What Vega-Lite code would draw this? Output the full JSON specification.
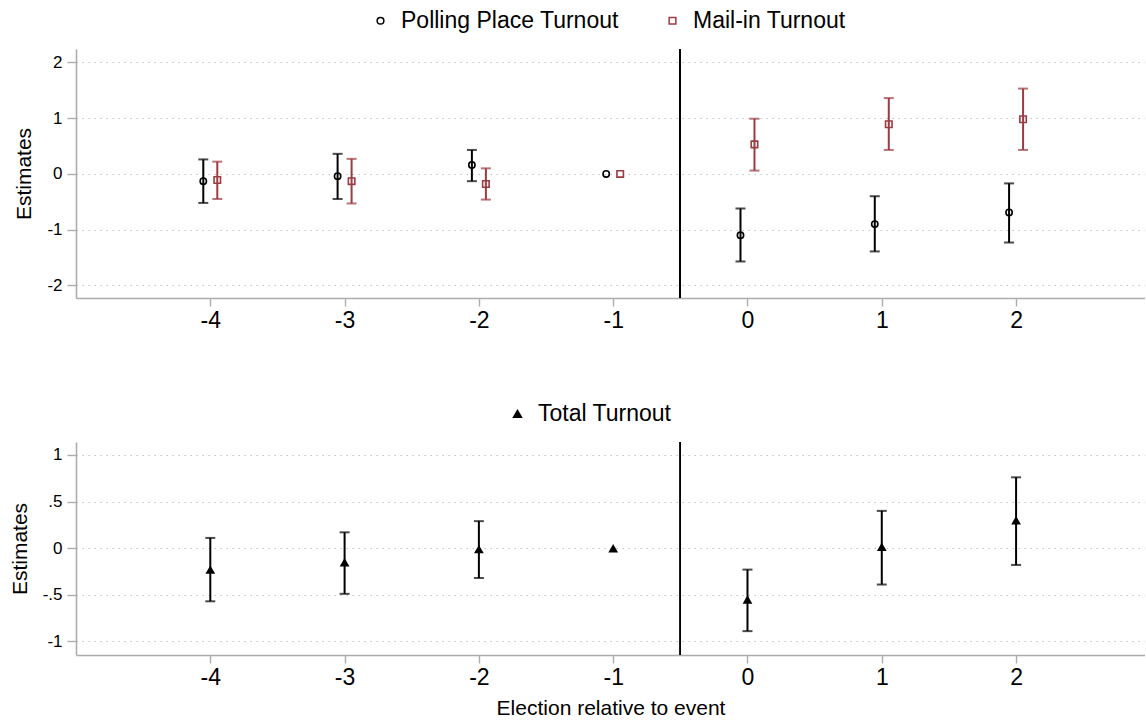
{
  "$schema": "https://vega.github.io/schema/vega-lite/v6.json",
  "padding": {"left": 9, "top": 9, "right": 0, "bottom": 4},
  "spacing": 70,
  "config": {
    "font": "Liberation Sans",
    "view": {"stroke": null},
    "axis": {
      "domainColor": "#adadad", "domainWidth": 1.6,
      "tickColor": "#adadad", "tickWidth": 1.4,
      "labelColor": "black", "titleColor": "black",
      "labelFont": "Liberation Sans", "titleFont": "Liberation Sans",
      "titleFontWeight": "normal"
    },
    "axisX": {"grid": false, "tickSize": 8, "labelFontSize": 23, "labelPadding": 3, "titleFontSize": 21, "titlePadding": 8},
    "axisY": {"grid": true, "gridColor": "#c4c4c4", "gridDash": [1.5, 4.5], "gridWidth": 1.2, "tickSize": 9, "labelFontSize": 17, "labelPadding": 5, "titleFontSize": 21, "titlePadding": 12},
    "legend": {"labelFont": "Liberation Sans", "labelFontSize": 23, "labelColor": "black", "labelLimit": 500, "padding": 0, "symbolStrokeWidth": 1.5, "labelOffset": 9, "columnPadding": 42}
  },
  "datasets": {
    "parts": [
      {"t": -4, "group": "Polling Place Turnout", "est": -0.13, "lo": -0.52, "hi": 0.26},
      {"t": -4, "group": "Mail-in Turnout", "est": -0.11, "lo": -0.45, "hi": 0.22},
      {"t": -3, "group": "Polling Place Turnout", "est": -0.04, "lo": -0.45, "hi": 0.36},
      {"t": -3, "group": "Mail-in Turnout", "est": -0.13, "lo": -0.53, "hi": 0.27},
      {"t": -2, "group": "Polling Place Turnout", "est": 0.16, "lo": -0.13, "hi": 0.43},
      {"t": -2, "group": "Mail-in Turnout", "est": -0.18, "lo": -0.46, "hi": 0.10},
      {"t": -1, "group": "Polling Place Turnout", "est": 0, "lo": null, "hi": null},
      {"t": -1, "group": "Mail-in Turnout", "est": 0, "lo": null, "hi": null},
      {"t": 0, "group": "Polling Place Turnout", "est": -1.10, "lo": -1.57, "hi": -0.62},
      {"t": 0, "group": "Mail-in Turnout", "est": 0.53, "lo": 0.06, "hi": 0.99},
      {"t": 1, "group": "Polling Place Turnout", "est": -0.90, "lo": -1.39, "hi": -0.40},
      {"t": 1, "group": "Mail-in Turnout", "est": 0.89, "lo": 0.43, "hi": 1.36},
      {"t": 2, "group": "Polling Place Turnout", "est": -0.69, "lo": -1.23, "hi": -0.17},
      {"t": 2, "group": "Mail-in Turnout", "est": 0.98, "lo": 0.43, "hi": 1.53}
    ],
    "total": [
      {"t": -4, "group": "Total Turnout", "est": -0.23, "lo": -0.57, "hi": 0.11},
      {"t": -3, "group": "Total Turnout", "est": -0.15, "lo": -0.49, "hi": 0.17},
      {"t": -2, "group": "Total Turnout", "est": -0.01, "lo": -0.32, "hi": 0.29},
      {"t": -1, "group": "Total Turnout", "est": 0, "lo": null, "hi": null},
      {"t": 0, "group": "Total Turnout", "est": -0.55, "lo": -0.89, "hi": -0.23},
      {"t": 1, "group": "Total Turnout", "est": 0.015, "lo": -0.39, "hi": 0.40},
      {"t": 2, "group": "Total Turnout", "est": 0.30, "lo": -0.18, "hi": 0.76}
    ]
  },
  "vconcat": [
    {
      "width": 1069,
      "height": 249,
      "data": {"name": "parts"},
      "layer": [
        {
          "mark": {"type": "rule", "color": "#9e9e9e", "strokeWidth": 1.5},
          "encoding": {
            "x": {"field": "t", "type": "quantitative", "title": null, "scale": {"domain": [-5, 2.96], "nice": false, "zero": false}, "axis": {"values": [-4, -3, -2, -1, 0, 1, 2], "labelExpr": "(datum.value < 0 ? '-' : '') + format(abs(datum.value), 'd')"}},
            "y": {"datum": 0, "type": "quantitative", "title": "Estimates", "scale": {"domain": [-2.225, 2.24], "nice": false, "zero": false}, "axis": {"values": [-2, -1, 0, 1, 2], "labelExpr": "(datum.value < 0 ? '-' : '') + replace(format(abs(datum.value), '~g'), '0.', '.')"}}
          }
        },
        {
          "mark": {"type": "rule", "color": "black", "strokeWidth": 1.2},
          "encoding": {"x": {"datum": -0.5, "type": "quantitative"}}
        },
        {
          "transform": [{"filter": "datum.group === 'Polling Place Turnout'"}],
          "mark": {"type": "rule", "color": "black", "strokeWidth": 2, "xOffset": -7},
          "encoding": {
            "x": {"field": "t", "type": "quantitative", "title": null},
            "y": {"field": "lo", "type": "quantitative", "title": "Estimates"},
            "y2": {"field": "hi"}
          }
        },
        {
          "transform": [{"filter": "datum.group === 'Polling Place Turnout'"}],
          "mark": {"type": "tick", "orient": "horizontal", "color": "black", "size": 10, "thickness": 2, "xOffset": -7},
          "encoding": {
            "x": {"field": "t", "type": "quantitative", "title": null},
            "y": {"field": "lo", "type": "quantitative", "title": "Estimates"}
          }
        },
        {
          "transform": [{"filter": "datum.group === 'Polling Place Turnout'"}],
          "mark": {"type": "tick", "orient": "horizontal", "color": "black", "size": 10, "thickness": 2, "xOffset": -7},
          "encoding": {
            "x": {"field": "t", "type": "quantitative", "title": null},
            "y": {"field": "hi", "type": "quantitative", "title": "Estimates"}
          }
        },
        {
          "transform": [{"filter": "datum.group === 'Mail-in Turnout'"}],
          "mark": {"type": "rule", "color": "#9b3b42", "strokeWidth": 2, "xOffset": 7},
          "encoding": {
            "x": {"field": "t", "type": "quantitative", "title": null},
            "y": {"field": "lo", "type": "quantitative", "title": "Estimates"},
            "y2": {"field": "hi"}
          }
        },
        {
          "transform": [{"filter": "datum.group === 'Mail-in Turnout'"}],
          "mark": {"type": "tick", "orient": "horizontal", "color": "#9b3b42", "size": 10, "thickness": 2, "xOffset": 7},
          "encoding": {
            "x": {"field": "t", "type": "quantitative", "title": null},
            "y": {"field": "lo", "type": "quantitative", "title": "Estimates"}
          }
        },
        {
          "transform": [{"filter": "datum.group === 'Mail-in Turnout'"}],
          "mark": {"type": "tick", "orient": "horizontal", "color": "#9b3b42", "size": 10, "thickness": 2, "xOffset": 7},
          "encoding": {
            "x": {"field": "t", "type": "quantitative", "title": null},
            "y": {"field": "hi", "type": "quantitative", "title": "Estimates"}
          }
        },
        {
          "transform": [{"filter": "datum.group === 'Polling Place Turnout'"}],
          "mark": {"type": "point", "filled": false, "strokeWidth": 1.6, "size": 40, "opacity": 1, "xOffset": -7},
          "encoding": {
            "x": {"field": "t", "type": "quantitative", "title": null},
            "y": {"field": "est", "type": "quantitative", "title": "Estimates"},
            "color": {"field": "group", "type": "nominal", "scale": {"domain": ["Polling Place Turnout", "Mail-in Turnout"], "range": ["black", "#9b3b42"]}, "legend": {"title": null, "orient": "none", "direction": "horizontal", "legendX": 293, "legendY": -40, "symbolSize": 45}},
            "shape": {"field": "group", "type": "nominal", "scale": {"domain": ["Polling Place Turnout", "Mail-in Turnout"], "range": ["circle", "square"]}, "legend": {"title": null, "orient": "none", "direction": "horizontal", "legendX": 293, "legendY": -40, "symbolSize": 45}}
          }
        },
        {
          "transform": [{"filter": "datum.group === 'Mail-in Turnout'"}],
          "mark": {"type": "point", "filled": false, "strokeWidth": 1.6, "size": 42, "opacity": 1, "xOffset": 7},
          "encoding": {
            "x": {"field": "t", "type": "quantitative", "title": null},
            "y": {"field": "est", "type": "quantitative", "title": "Estimates"},
            "color": {"field": "group", "type": "nominal", "scale": {"domain": ["Polling Place Turnout", "Mail-in Turnout"], "range": ["black", "#9b3b42"]}},
            "shape": {"field": "group", "type": "nominal", "scale": {"domain": ["Polling Place Turnout", "Mail-in Turnout"], "range": ["circle", "square"]}}
          }
        }
      ]
    },
    {
      "width": 1069,
      "height": 213,
      "data": {"name": "total"},
      "layer": [
        {
          "mark": {"type": "rule", "color": "#9e9e9e", "strokeWidth": 1.5},
          "encoding": {
            "x": {"field": "t", "type": "quantitative", "title": "Election relative to event", "scale": {"domain": [-5, 2.96], "nice": false, "zero": false}, "axis": {"values": [-4, -3, -2, -1, 0, 1, 2], "labelExpr": "(datum.value < 0 ? '-' : '') + format(abs(datum.value), 'd')"}},
            "y": {"datum": 0, "type": "quantitative", "title": "Estimates", "scale": {"domain": [-1.146, 1.139], "nice": false, "zero": false}, "axis": {"values": [-1, -0.5, 0, 0.5, 1], "labelExpr": "(datum.value < 0 ? '-' : '') + replace(format(abs(datum.value), '~g'), '0.', '.')"}}
          }
        },
        {
          "mark": {"type": "rule", "color": "black", "strokeWidth": 1.2},
          "encoding": {"x": {"datum": -0.5, "type": "quantitative"}}
        },
        {
          "mark": {"type": "rule", "color": "black", "strokeWidth": 2},
          "encoding": {
            "x": {"field": "t", "type": "quantitative", "title": "Election relative to event"},
            "y": {"field": "lo", "type": "quantitative", "title": "Estimates"},
            "y2": {"field": "hi"}
          }
        },
        {
          "mark": {"type": "tick", "orient": "horizontal", "color": "black", "size": 10, "thickness": 2},
          "encoding": {
            "x": {"field": "t", "type": "quantitative", "title": "Election relative to event"},
            "y": {"field": "lo", "type": "quantitative", "title": "Estimates"}
          }
        },
        {
          "mark": {"type": "tick", "orient": "horizontal", "color": "black", "size": 10, "thickness": 2},
          "encoding": {
            "x": {"field": "t", "type": "quantitative", "title": "Election relative to event"},
            "y": {"field": "hi", "type": "quantitative", "title": "Estimates"}
          }
        },
        {
          "mark": {"type": "point", "filled": true, "size": 95, "opacity": 1},
          "encoding": {
            "x": {"field": "t", "type": "quantitative", "title": "Election relative to event"},
            "y": {"field": "est", "type": "quantitative", "title": "Estimates"},
            "color": {"field": "group", "type": "nominal", "scale": {"domain": ["Total Turnout"], "range": ["black"]}, "legend": {"title": null, "orient": "none", "direction": "horizontal", "legendX": 430, "legendY": -40, "symbolSize": 110}},
            "shape": {"field": "group", "type": "nominal", "scale": {"domain": ["Total Turnout"], "range": ["triangle-up"]}, "legend": {"title": null, "orient": "none", "direction": "horizontal", "legendX": 430, "legendY": -40, "symbolSize": 110}}
          }
        }
      ]
    }
  ],
  "resolve": {"scale": {"color": "independent", "shape": "independent", "x": "independent", "y": "independent"}, "legend": {"color": "independent", "shape": "independent"}}
}
